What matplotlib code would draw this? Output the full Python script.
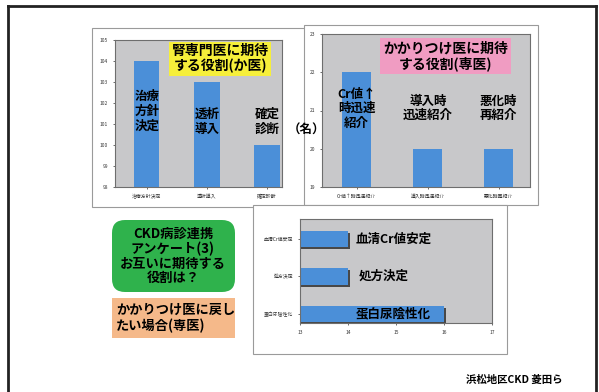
import matplotlib.pyplot as plt
from matplotlib.patches import Rectangle, FancyBboxPatch
import matplotlib.patheffects as pe

plt.rcParams['font.family'] = ['Noto Sans CJK JP', 'DejaVu Sans']

# ---------------- data ----------------
senmon_cats = ["治療方針決定", "透析導入", "確定診断"]
senmon_vals = [104, 103, 100]
senmon_labels = ["治療\n方針\n決定", "透析\n導入", "確定\n診断"]
senmon_ticks = [98, 99, 100, 101, 102, 103, 104, 105]

kakari_cats = ["Cr値↑時迅速紹介", "導入時迅速紹介", "悪化時再紹介"]
kakari_vals = [22, 20, 20]
kakari_labels = ["Cr値↑\n時迅速\n紹介", "導入時\n迅速紹介", "悪化時\n再紹介"]
kakari_ticks = [19, 20, 21, 22, 23]

modoshi_cats = ["蛋白尿陰性化", "処方決定", "血清Cr値安定"]
modoshi_vals = [16, 14, 14]
modoshi_ticks = [13, 14, 15, 16, 17]

W, H = 599, 392
BLUE = '#4b8fd8'
GRAY = '#c8c8ca'


def box(x0, y0, x1, y1):
    # pixel box (top-left origin) -> figure fraction rect
    return [x0 / W, 1 - y1 / H, (x1 - x0) / W, (y1 - y0) / H]


def fx(x):
    return x / W


def fy(y):
    return 1 - y / H


fig = plt.figure(figsize=(W / 100, H / 100), dpi=100)
fig.patch.set_facecolor('white')

# slide frame
fig.add_artist(plt.Line2D([fx(8), fx(8)], [fy(6), 0], color='#222', lw=2))
fig.add_artist(plt.Line2D([fx(8), fx(596)], [fy(6), fy(6)], color='#222', lw=2))
fig.add_artist(plt.Line2D([fx(596), fx(596)], [fy(6), 0], color='#222', lw=2))

# outer chart boxes
for x0, y0, x1, y1 in [(92, 28, 309, 207), (304, 25, 538, 205), (253, 205, 507, 354)]:
    fig.add_artist(Rectangle((fx(x0), fy(y1)), fx(x1) - fx(x0), fy(y0) - fy(y1),
                             facecolor='white', edgecolor='#9a9a9a', lw=0.8,
                             transform=fig.transFigure, zorder=0))

shadow = [pe.SimplePatchShadow(offset=(1.5, -1.5), shadow_rgbFace='#3a3a3a', alpha=0.9),
          pe.Normal()]


def style(ax):
    ax.set_facecolor(GRAY)
    for s in ax.spines.values():
        s.set_color('#6e6e6e')
        s.set_linewidth(0.8)
    ax.tick_params(labelsize=3.5, length=1.5, width=0.5, colors='#333')


# ---------- chart 1 ----------
ax1 = fig.add_axes(box(115, 40, 282, 187))
style(ax1)
x1 = range(len(senmon_cats))
ax1.bar(x1, senmon_vals, width=0.42, color=BLUE)
ax1.set_ylim(98, 105)
ax1.set_xlim(-0.53, 2.25)
ax1.set_yticks(senmon_ticks)
ax1.set_xticks(list(x1))
ax1.set_xticklabels(senmon_cats)
for i, lab in enumerate(senmon_labels):
    ax1.text(i, 101.6 if i == 0 else 101.1, lab, ha='center', va='center',
             fontsize=9, fontweight='bold', linespacing=1.15)
ax1.text(1.22, 104.1, "腎専門医に期待\nする役割(か医)", ha='center', va='center',
         fontsize=10, fontweight='bold', linespacing=1.1,
         bbox=dict(boxstyle='square,pad=0.15', facecolor='#f6ef3a', edgecolor='none'))

# ---------- chart 2 ----------
ax2 = fig.add_axes(box(322, 34, 530, 187))
style(ax2)
x2 = range(len(kakari_cats))
ax2.bar(x2, kakari_vals, width=0.41, color=BLUE)
ax2.set_ylim(19, 23)
ax2.set_xlim(-0.49, 2.44)
ax2.set_yticks(kakari_ticks)
ax2.set_xticks(list(x2))
ax2.set_xticklabels(kakari_cats)
for i, lab in enumerate(kakari_labels):
    ax2.text(i, 21.05, lab, ha='center', va='center',
             fontsize=9, fontweight='bold', linespacing=1.15)
ax2.text(1.25, 22.42, "かかりつけ医に期待\nする役割(専医)", ha='center', va='center',
         fontsize=10, fontweight='bold', linespacing=1.1,
         bbox=dict(boxstyle='square,pad=0.2', facecolor='#f09cc2', edgecolor='none'))

fig.text(fx(306), fy(130), "（名）", ha='center', va='center', fontsize=9, fontweight='bold')

# ---------- chart 3 ----------
ax3 = fig.add_axes(box(300, 219, 492, 323))
style(ax3)
y3 = range(len(modoshi_cats))
bars = ax3.barh(y3, modoshi_vals, height=0.43, color=BLUE)
for b in bars:
    b.set_path_effects(shadow)
ax3.set_xlim(13, 17)
ax3.set_ylim(-0.24, 2.53)
ax3.set_xticks(modoshi_ticks)
ax3.set_yticks(list(y3))
ax3.set_yticklabels(modoshi_cats)
ax3.text(14.95, 0, "蛋白尿陰性化", ha='center', va='center', fontsize=9, fontweight='bold')
ax3.text(14.75, 1, "処方決定", ha='center', va='center', fontsize=9, fontweight='bold')
ax3.text(14.95, 2, "血清Cr値安定", ha='center', va='center', fontsize=9, fontweight='bold')

# ---------- side boxes ----------
fig.add_artist(FancyBboxPatch((1.12, 1.0), 1.23, 0.72,
                              boxstyle='round,pad=0,rounding_size=0.13',
                              facecolor='#2fb24c', edgecolor='none',
                              transform=fig.dpi_scale_trans))
fig.text(fx(173), fy(256), "CKD病診連携\nアンケート(3)\nお互いに期待する\n役割は？",
         ha='center', va='center', fontsize=9.5, fontweight='bold', linespacing=1.05)
fig.add_artist(Rectangle((fx(112), fy(338)), fx(235) - fx(112), fy(298) - fy(338),
                         facecolor='#f5b98a', edgecolor='none', transform=fig.transFigure))
fig.text(fx(116), fy(318), "かかりつけ医に戻し\nたい場合(専医)",
         ha='left', va='center', fontsize=9.5, fontweight='bold', linespacing=1.1)

fig.text(fx(514), fy(380), "浜松地区CKD 菱田ら", ha='center', va='center',
         fontsize=7.5, fontweight='bold')

plt.savefig("out.png", dpi=100)
plt.close()
